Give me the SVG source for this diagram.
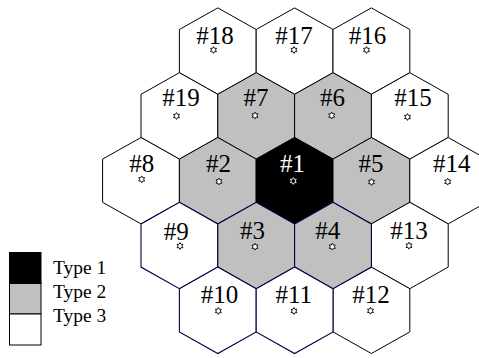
<svg xmlns="http://www.w3.org/2000/svg" xmlns:xlink="http://www.w3.org/1999/xlink" width="479" height="358" viewBox="0 0 479 358">
<style>
.hex{stroke:#000;stroke-width:1;stroke-linejoin:miter}
.t1{fill:#000}
.t2{fill:#c0c0c0}
.t3{fill:#fff}
.nv{stroke:#000048;stroke-width:1.1}
.lbl{font-family:"Liberation Serif","Times New Roman",serif;font-size:25px;text-anchor:middle;fill:#000}
.wt{fill:#fff}
.st{fill:#fff;stroke:#000;stroke-width:0.9}
.stw{fill:#000;stroke:#fff;stroke-width:0.9}
.leg{font-family:"Liberation Serif","Times New Roman",serif;font-size:19.5px;fill:#000}
.box{stroke:#000;stroke-width:1}
</style>
<defs>
<polygon id="hex" points="0,-43.2 38.4,-21.6 38.4,21.6 0,43.2 -38.4,21.6 -38.4,-21.6"/>
<polygon id="star" points="0,-3.4 0.98,-1.7 2.94,-1.7 1.96,0 2.94,1.7 0.98,1.7 0,3.4 -0.98,1.7 -2.94,1.7 -1.96,0 -2.94,-1.7 -0.98,-1.7"/>
</defs>
<rect width="479" height="358" fill="#fff"/>
<g id="cell18"><use xlink:href="#hex" href="#hex" class="hex t3" x="217.8" y="51.1"/><text class="lbl" x="215" y="43.5">#18</text><use href="#star" xlink:href="#star" class="st" x="213.5" y="50"/></g>
<g id="cell17"><use href="#hex" xlink:href="#hex" class="hex t3" x="294.6" y="51.1"/><text class="lbl" x="294" y="43.5">#17</text><use href="#star" xlink:href="#star" class="st" x="294" y="50"/></g>
<g id="cell16"><use href="#hex" xlink:href="#hex" class="hex t3" x="371.4" y="51.1"/><text class="lbl" x="367.5" y="43.5">#16</text><use href="#star" xlink:href="#star" class="st" x="366.5" y="50"/></g>
<g id="cell19"><use href="#hex" xlink:href="#hex" class="hex t3" x="179.4" y="115.9"/><text class="lbl" x="181" y="105.5">#19</text><use href="#star" xlink:href="#star" class="st" x="176.5" y="116"/></g>
<g id="cell7"><use href="#hex" xlink:href="#hex" class="hex t2" x="256.2" y="115.9"/><text class="lbl" x="256" y="105.5">#7</text><use href="#star" xlink:href="#star" class="st" x="255" y="115.5"/></g>
<g id="cell6"><use href="#hex" xlink:href="#hex" class="hex t2" x="333" y="115.9"/><text class="lbl" x="332.5" y="105.5">#6</text><use href="#star" xlink:href="#star" class="st" x="331.7" y="115.5"/></g>
<g id="cell15"><use href="#hex" xlink:href="#hex" class="hex t3" x="409.8" y="115.9"/><text class="lbl" x="413" y="105.5">#15</text><use href="#star" xlink:href="#star" class="st" x="407.5" y="117"/></g>
<g id="cell8"><use href="#hex" xlink:href="#hex" class="hex t3" x="141" y="180.7"/><text class="lbl" x="141.7" y="171.7">#8</text><use href="#star" xlink:href="#star" class="st" x="141.7" y="179.3"/></g>
<g id="cell2"><use href="#hex" xlink:href="#hex" class="hex t2" x="217.8" y="180.7"/><text class="lbl" x="218.5" y="171.7">#2</text><use href="#star" xlink:href="#star" class="st" x="219" y="181.5"/></g>
<g id="cell1"><use href="#hex" xlink:href="#hex" class="hex t1" x="294.6" y="180.7"/><text class="lbl wt" x="292.5" y="171.7">#1</text><use href="#star" xlink:href="#star" class="stw" x="293.3" y="181"/></g>
<g id="cell5"><use href="#hex" xlink:href="#hex" class="hex t2" x="371.4" y="180.7"/><text class="lbl" x="371" y="171.7">#5</text><use href="#star" xlink:href="#star" class="st" x="371.5" y="182"/></g>
<g id="cell14"><use href="#hex" xlink:href="#hex" class="hex t3" x="448.2" y="180.7"/><text class="lbl" x="451.7" y="171.7">#14</text><use href="#star" xlink:href="#star" class="st" x="447.7" y="181.7"/></g>
<g id="cell13"><use href="#hex" xlink:href="#hex" class="hex t3" x="409.8" y="245.5"/><text class="lbl" x="409" y="239.3">#13</text><use href="#star" xlink:href="#star" class="st" x="409" y="245.7"/></g>
<g id="cell12"><use href="#hex" xlink:href="#hex" class="hex t3" x="371.4" y="310.3"/><text class="lbl" x="371" y="302.5">#12</text><use href="#star" xlink:href="#star" class="st" x="370.5" y="310.8"/></g>
<g id="cell9"><use href="#hex" xlink:href="#hex" class="hex t3 nv" x="179.4" y="245.5"/><text class="lbl" x="176.3" y="240">#9</text><use href="#star" xlink:href="#star" class="st" x="180" y="246"/></g>
<g id="cell3"><use href="#hex" xlink:href="#hex" class="hex t2 nv" x="256.2" y="245.5"/><text class="lbl" x="252.5" y="239">#3</text><use href="#star" xlink:href="#star" class="st" x="255" y="246.7"/></g>
<g id="cell4"><use href="#hex" xlink:href="#hex" class="hex t2 nv" x="333" y="245.5"/><text class="lbl" x="327.7" y="239">#4</text><use href="#star" xlink:href="#star" class="st" x="332.3" y="246.7"/></g>
<g id="cell10"><use href="#hex" xlink:href="#hex" class="hex t3 nv" x="217.8" y="310.3"/><text class="lbl" x="219.5" y="303.3">#10</text><use href="#star" xlink:href="#star" class="st" x="218.3" y="311"/></g>
<g id="cell11"><use href="#hex" xlink:href="#hex" class="hex t3 nv" x="294.6" y="310.3"/><text class="lbl" x="293.8" y="303.3">#11</text><use href="#star" xlink:href="#star" class="st" x="294" y="311"/></g>
<g id="legend">
<rect class="box" x="9.5" y="252.5" width="31.5" height="31" fill="#000"/>
<rect class="box" x="9.5" y="283.5" width="31.5" height="30.5" fill="#c0c0c0"/>
<rect class="box" x="9.5" y="314" width="31.5" height="31" fill="#fff"/>
<text class="leg" x="53" y="274">Type 1</text>
<text class="leg" x="53" y="298.3">Type 2</text>
<text class="leg" x="53" y="322.3">Type 3</text>
</g>
</svg>
